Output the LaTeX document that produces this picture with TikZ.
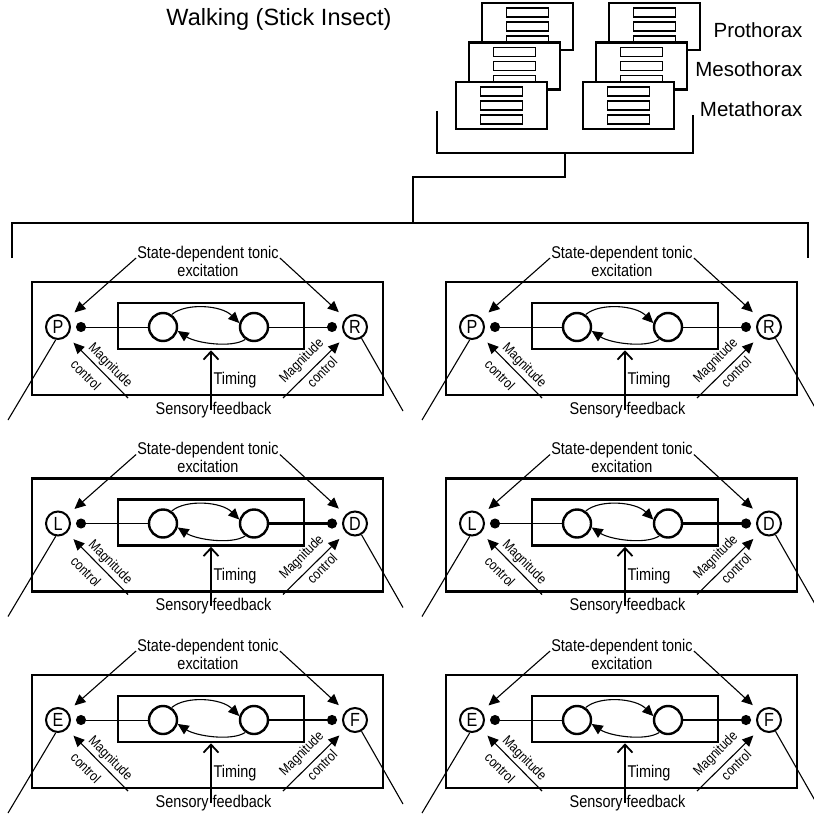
\documentclass[tikz,border=0pt]{standalone}
\usepackage{fontspec}
\setmainfont{Liberation Sans}
\newfontfamily\narrowfont{Liberation Sans}[FakeStretch=0.85]
\usetikzlibrary{arrows.meta}

\begin{document}
\begin{tikzpicture}[x=1pt, y=-1pt,
    box/.style={draw, line width=2.6pt, inner sep=0pt},
    osc/.style={circle, draw, line width=2.4pt, minimum size=28pt, inner sep=0pt},
    motor/.style={circle, draw, line width=2pt, minimum size=24pt, inner sep=0pt,
      font=\narrowfont\fontsize{19}{19}\selectfont},
    lbl/.style={inner sep=1pt, font=\narrowfont\fontsize{17}{18}\selectfont},
    small/.style={inner sep=0pt, font=\narrowfont\fontsize{14}{14}\selectfont},
    drive/.style={line width=1.1pt, -{Triangle[length=11pt,width=10pt]}, shorten >=9pt},
    inhib/.style={-{Circle[length=10pt]}, shorten >=5pt},
    segbox/.style={draw, line width=2.4pt, fill=white, minimum width=91pt,
      minimum height=47pt, inner sep=0pt},
    bar/.style={draw, line width=1.5pt, minimum width=42pt, minimum height=9pt, inner sep=0pt},
    thorax/.style={anchor=base east, font=\fontsize{20.5}{20}\selectfont}]

  \useasboundingbox (0,0) rectangle (813,821);

  \node[anchor=base, font=\fontsize{23.5}{24}\selectfont] (title) at (279,26) {Walking (Stick Insect)};

  % segment ganglia, front to back
  \foreach \s in {0,1,2}
    \foreach \c in {0,1} {
      \node[segbox] (seg\s\c) at ({527.5-13*\s+127*\c}, {26.5+39.5*\s}) {};
      \foreach \b in {0,1,2}
        \node[bar] (bar\s\c\b) at ([yshift={-10.5-14*\b}]seg\s\c.north) {};
    }

  \node[thorax] (pro) at (806,38) {Prothorax};
  \node[thorax] (meso) at (806,77) {Mesothorax};
  \node[thorax] (meta) at (806,117) {Metathorax};

  % brackets
  \coordinate (segL) at (437,111);
  \coordinate (segR) at (693,115);
  \coordinate (segM) at (565,153);
  \coordinate (hub) at (413,223);
  \coordinate (legsL) at (12,258);
  \coordinate (legsR) at (808,258);
  \draw[line width=2.6pt] (segL) |- (segR |- segM) -- (segR);
  \draw[line width=2.6pt] (segM) -- ++(0,24) -| (hub);
  \draw[line width=2.6pt] (legsL) |- (hub) -| (legsR);

  % one controller per joint and leg
  \foreach \r/\lft/\rgt/\w in {0/P/R/1pt, 1/L/D/2.6pt, 2/E/F/2.6pt}
    \foreach \c in {0,1} {
      \begin{scope}[shift={(414*\c,196.5*\r)}]
        \node[box, minimum width=351pt, minimum height=113pt] (frame\r\c) at (207.5,338.5) {};
        \node[box, minimum width=186pt, minimum height=46pt] (cpg\r\c) at (211,326) {};
        \node[osc] (hcL\r\c) at (163,327) {};
        \node[osc] (hcR\r\c) at (254,327) {};
        \node[motor] (mnL\r\c) at (58,327) {\lft};
        \node[motor] (mnR\r\c) at (355,327) {\rgt};

        \draw[line width=1.1pt, -{Triangle[length=11pt,width=10pt]}]
          (hcL\r\c.55) .. controls +(14,-12) and +(-18,-18) .. (hcR\r\c.165);
        \draw[line width=1.1pt, -{Triangle[length=11pt,width=10pt]}]
          (hcR\r\c.235) .. controls +(-14,9) and +(18,12) .. (hcL\r\c.-15);
        \draw[line width=1pt, inhib] (hcL\r\c) -- (mnL\r\c);
        \draw[line width=\w, inhib] (hcR\r\c) -- (mnR\r\c);

        \node[lbl, anchor=base] (state\r\c) at (208,258) {State-dependent tonic};
        \node[lbl, anchor=base] (excit\r\c) at (208,276) {excitation};
        \draw[drive] (state\r\c.base west) -- (mnL\r\c);
        \draw[drive] (state\r\c.base east) -- (mnR\r\c);

        \coordinate (magL\r\c) at (128,398);
        \coordinate (magR\r\c) at (283,398);
        \draw[drive] (magL\r\c) -- (mnL\r\c);
        \draw[drive] (magR\r\c) -- (mnR\r\c);
        \node[small, rotate=-45] (mtxtL\r\c) at (110,366) {Magnitude};
        \node[small, rotate=-45] (ctxtL\r\c) at (86,375) {control};
        \node[small, rotate=45] (mtxtR\r\c) at (302,361) {Magnitude};
        \node[small, rotate=45] (ctxtR\r\c) at (322,372) {control};

        \node[lbl, anchor=base] (timing\r\c) at (235,384) {Timing};
        \node[lbl, anchor=base] (sens\r\c) at (213.5,414) {Sensory feedback};
        \draw[line width=1.1pt, -{Straight Barb[length=8pt,width=15pt,line width=1.8pt]}]
          (sens\r\c.center -| cpg\r\c.south) -- (cpg\r\c.south);

        % legs
        \coordinate (legL\r\c) at (8,420);
        \coordinate (legR\r\c) at (403,411);
        \draw[line width=1.1pt] (mnL\r\c.-100) -- (legL\r\c);
        \draw[line width=1.1pt] (mnR\r\c.-60) -- (legR\r\c);
      \end{scope}
    }
\end{tikzpicture}
\end{document}
